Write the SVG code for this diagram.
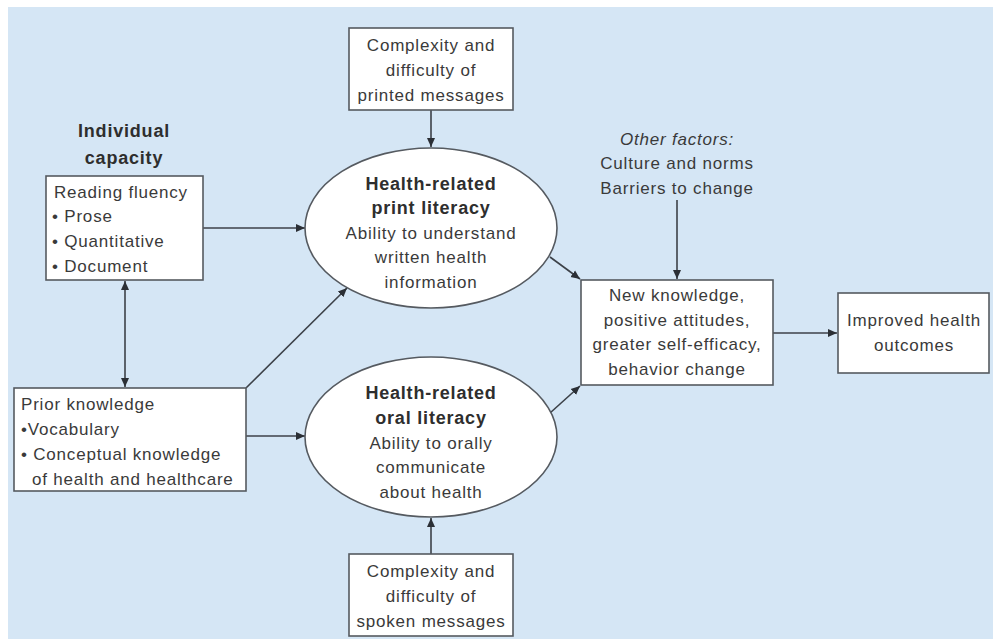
<svg xmlns="http://www.w3.org/2000/svg" width="993" height="639" viewBox="0 0 993 639">
  <style>
    text { font-family: "Liberation Sans", Arial, sans-serif; font-size: 17px; fill: #3a3a3a; letter-spacing: 0.8px; }
    .b { font-weight: bold; font-size: 18px; fill: #2e2e2e; }
    .i { font-style: italic; }
    .c { text-anchor: middle; }
    .box { fill: #ffffff; stroke: #555a60; stroke-width: 1.6; }
    .edge { fill: none; stroke: #3c4148; stroke-width: 1.6; }
  </style>
  <defs>
    <marker id="ah" markerUnits="userSpaceOnUse" markerWidth="10" markerHeight="10" refX="9" refY="5" orient="auto-start-reverse">
      <path d="M0,1 L9,5 L0,9 Z" fill="#2b2f35"/>
    </marker>
  </defs>

  <!-- background panel -->
  <rect x="0" y="0" width="993" height="639" fill="#ffffff"/>
  <rect x="8" y="7" width="985" height="632" fill="#d5e6f5"/>

  <!-- connectors -->
  <g id="connectors">
    <line class="edge" x1="203" y1="228" x2="305" y2="228" marker-end="url(#ah)"/>
    <line class="edge" x1="431" y1="110" x2="431" y2="147" marker-end="url(#ah)"/>
    <line class="edge" x1="125" y1="281" x2="125" y2="387" marker-start="url(#ah)" marker-end="url(#ah)"/>
    <line class="edge" x1="246" y1="388" x2="347" y2="288" marker-end="url(#ah)"/>
    <line class="edge" x1="246" y1="436" x2="305" y2="436" marker-end="url(#ah)"/>
    <line class="edge" x1="431" y1="554" x2="431" y2="518" marker-end="url(#ah)"/>
    <line class="edge" x1="550" y1="257" x2="580" y2="279" marker-end="url(#ah)"/>
    <line class="edge" x1="550" y1="413" x2="580" y2="386" marker-end="url(#ah)"/>
    <line class="edge" x1="677" y1="200" x2="677" y2="279" marker-end="url(#ah)"/>
    <line class="edge" x1="773" y1="333" x2="837" y2="333" marker-end="url(#ah)"/>
  </g>

  <g id="individual-capacity">
    <text class="b c" x="124" y="137">Individual</text>
    <text class="b c" x="124" y="164">capacity</text>
  </g>

  <g id="reading-fluency">
    <rect class="box" x="46" y="176" width="157" height="104"/>
    <text x="54" y="198">Reading fluency</text>
    <text x="52" y="222">• Prose</text>
    <text x="52" y="247">• Quantitative</text>
    <text x="52" y="272">• Document</text>
  </g>

  <g id="prior-knowledge">
    <rect class="box" x="14" y="388" width="232" height="103"/>
    <text x="21" y="410">Prior knowledge</text>
    <text x="21" y="435">•Vocabulary</text>
    <text x="21" y="460">• Conceptual knowledge</text>
    <text x="32" y="485">of health and healthcare</text>
  </g>

  <g id="printed-messages">
    <rect class="box" x="349" y="28" width="164" height="82"/>
    <text class="c" x="431" y="51">Complexity and</text>
    <text class="c" x="431" y="76">difficulty of</text>
    <text class="c" x="431" y="101">printed messages</text>
  </g>

  <g id="print-literacy">
    <ellipse class="box" cx="431" cy="228" rx="126" ry="80"/>
    <text class="b c" x="431" y="190">Health-related</text>
    <text class="b c" x="431" y="214">print literacy</text>
    <text class="c" x="431" y="239">Ability to understand</text>
    <text class="c" x="431" y="263">written health</text>
    <text class="c" x="431" y="288">information</text>
  </g>

  <g id="oral-literacy">
    <ellipse class="box" cx="431" cy="437" rx="126" ry="80"/>
    <text class="b c" x="431" y="399">Health-related</text>
    <text class="b c" x="431" y="424">oral literacy</text>
    <text class="c" x="431" y="449">Ability to orally</text>
    <text class="c" x="431" y="473">communicate</text>
    <text class="c" x="431" y="498">about health</text>
  </g>

  <g id="spoken-messages">
    <rect class="box" x="349" y="554" width="164" height="82"/>
    <text class="c" x="431" y="577">Complexity and</text>
    <text class="c" x="431" y="602">difficulty of</text>
    <text class="c" x="431" y="627">spoken messages</text>
  </g>

  <g id="other-factors">
    <text class="i c" x="677" y="145">Other factors:</text>
    <text class="c" x="677" y="169">Culture and norms</text>
    <text class="c" x="677" y="194">Barriers to change</text>
  </g>

  <g id="behavior-change">
    <rect class="box" x="581" y="280" width="192" height="105"/>
    <text class="c" x="677" y="301">New knowledge,</text>
    <text class="c" x="677" y="326">positive attitudes,</text>
    <text class="c" x="677" y="350">greater self-efficacy,</text>
    <text class="c" x="677" y="375">behavior change</text>
  </g>

  <g id="health-outcomes">
    <rect class="box" x="838" y="293" width="151" height="80"/>
    <text class="c" x="914" y="326">Improved health</text>
    <text class="c" x="914" y="351">outcomes</text>
  </g>
</svg>
